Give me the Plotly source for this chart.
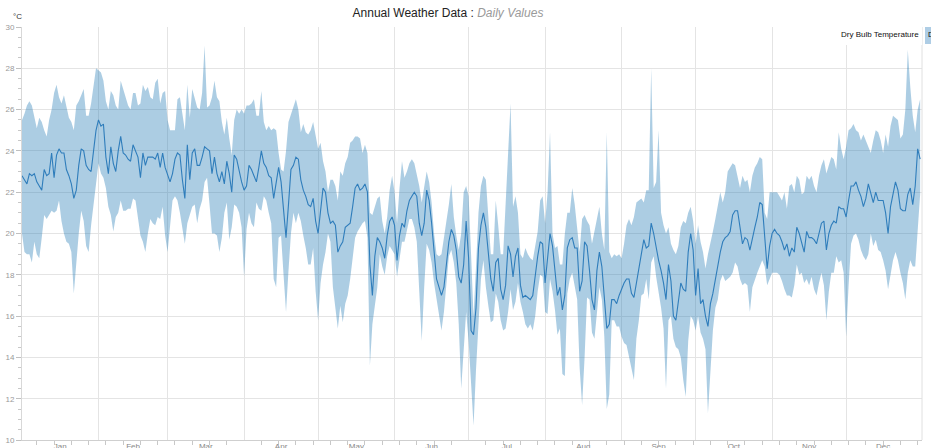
import pandas as pd
import plotly.graph_objects as go

# ---------------- data (daily dry bulb temperature, °C) ----------------
dates = pd.date_range("2019-01-01", periods=365, freq="D")

t_mean = [
    22.8,22.6,22.4,22.9,22.8,22.9,22.5,22.3,22.1,23.1, 22.8,22.9,23.9,22.7,23.8,24.1,23.9,23.9,23.1,22.8,
    22.4,21.7,22.1,23.3,24.1,24.0,23.3,23.1,23.0,24.0, 25.0,25.5,25.2,25.3,23.7,22.9,24.2,23.4,23.0,24.0,
    24.7,23.9,23.8,23.6,23.5,24.3,24.0,23.7,22.7,23.9, 23.3,23.7,23.7,23.7,23.6,23.9,23.2,23.9,23.2,22.8,
    22.5,22.9,23.6,
    23.9,23.8,22.6,21.7,24.3,22.6,23.9,24.1,23.3,23.3, 23.7,24.2,24.1,24.0,22.9,23.7,22.9,22.5,23.0,22.4,
    23.5,22.9,22.0,23.8,23.6,23.0,22.5,22.1,22.3,23.3, 23.1,22.8,22.5,23.2,24.0,23.4,23.2,22.8,22.7,21.7,
    22.4,23.2,22.5,21.2,19.8,21.4,23.1,23.3,23.7,23.6, 22.6,22.1,21.8,21.4,21.3,21.7,20.6,20.0,21.0,22.2,
    22.0,
    21.0,20.5,20.6,20.4,19.1,19.4,19.6,20.3,20.4,20.5, 21.3,22.2,22.4,22.1,22.2,22.4,22.0,18.5,17.0,18.9,
    19.8,19.6,19.3,18.8,19.9,20.6,20.8,20.4,18.7,19.9, 20.5,20.3,21.1,21.6,21.8,22.0,21.8,20.5,19.9,20.5,
    22.1,21.6,20.5,19.0,17.8,17.4,17.0,17.4,18.5,19.6, 20.2,19.9,19.2,17.9,17.6,18.5,20.6,18.8,15.3,15.1,
    16.4,
    19.3,20.4,21.0,20.3,19.2,17.8,17.2,18.6,18.8,17.3, 16.8,17.5,19.4,19.0,17.9,18.9,19.3,17.5,16.9,17.0,
    16.9,16.8,17.0,18.0,18.9,19.6,19.5,17.6,18.9,20.0, 19.4,18.3,17.0,17.4,16.3,17.0,19.3,19.7,19.8,19.3,
    19.3,17.2,17.7,19.6,19.4,18.2,16.8,16.3,18.2,19.1, 18.4,16.9,15.4,15.6,16.8,16.8,16.6,17.0,17.3,17.6,
    17.8,
    17.8,17.1,16.9,17.6,18.4,19.0,19.7,19.3,19.4,20.5, 20.0,19.3,18.7,18.2,17.6,16.8,18.5,17.7,16.0,15.8,
    16.6,17.6,17.3,17.2,19.1,20.0,19.2,17.0,18.3,16.6, 16.8,16.0,15.5,16.6,17.1,17.8,18.4,19.1,19.6,19.8,
    19.9,20.1,20.9,21.1,21.1,20.2,19.5,19.8,19.7,19.2, 19.8,20.3,20.8,21.5,21.4,19.6,18.3,19.4,20.0,20.2,
    20.0,
    19.9,19.6,19.2,19.5,18.9,19.3,19.1,20.3,20.0,19.6, 19.1,20.1,19.8,19.8,19.7,19.5,20.0,20.5,20.6,19.2,
    20.0,20.4,20.6,20.5,21.3,21.2,21.2,20.8,21.6,22.3, 22.3,22.5,22.1,21.8,21.3,21.7,22.4,21.9,21.5,22.0,
    21.6,21.6,21.6,21.0,20.0,21.3,22.0,22.5,22.1,21.2, 21.1,21.1,21.9,22.2,21.4,22.3,24.1,23.6,
]

t_max = [
    25.5,25.8,26.2,26.4,26.2,25.6,25.1,25.6,25.4,25.0, 24.7,25.5,26.0,26.8,27.2,26.6,26.3,26.7,26.2,25.6,
    25.4,25.0,26.2,26.4,26.7,27.0,25.7,25.7,26.3,27.3, 28.0,27.9,27.8,27.4,26.4,26.0,26.9,26.7,26.2,26.0,
    27.4,27.0,26.6,26.2,26.0,26.8,26.8,26.2,26.3,27.2, 26.9,27.1,26.6,26.5,27.3,27.5,26.3,26.8,26.9,25.5,
    25.0,25.0,25.0,
    26.5,26.6,25.8,25.0,27.2,25.6,27.0,26.6,26.1,26.0, 26.8,29.1,26.1,26.2,26.6,27.4,26.6,26.4,25.4,24.8,
    25.6,24.6,23.8,25.5,26.0,25.8,26.0,25.8,26.2,26.2, 26.3,26.5,25.7,25.7,26.9,25.4,25.0,25.2,25.0,25.1,
    25.0,23.9,23.1,23.0,24.0,25.4,25.8,26.1,26.5,26.0, 24.9,25.3,24.9,24.8,25.0,25.4,24.7,24.1,24.4,23.5,
    23.0,
    22.0,22.6,22.6,22.3,21.6,23.0,22.8,23.4,23.7,24.4, 24.5,24.7,24.7,24.6,23.9,24.3,23.9,21.0,20.9,21.3,
    21.7,21.8,20.6,20.0,20.8,22.1,22.8,22.0,20.5,22.2, 23.5,22.7,23.0,23.4,23.6,23.4,22.9,22.3,21.5,22.2,
    23.0,22.5,21.5,20.0,19.0,18.9,19.0,19.8,20.5,21.4, 22.4,20.8,19.9,19.2,20.0,22.0,22.3,21.8,19.0,16.0,
    18.4,
    21.0,22.3,22.8,22.6,21.0,19.0,19.0,21.6,20.4,19.0, 19.0,21.3,23.5,26.3,21.3,21.8,21.0,19.0,18.8,19.3,
    19.0,18.8,18.7,19.5,20.1,21.6,21.8,20.5,22.0,24.9, 20.0,19.3,19.4,18.5,18.5,20.0,21.0,21.0,22.2,21.4,
    20.2,19.1,20.7,20.9,20.6,20.4,19.5,20.2,20.7,21.3, 20.0,19.2,24.9,19.1,18.8,19.0,18.9,19.0,18.8,19.5,
    20.4,
    20.7,20.4,20.8,21.5,21.6,21.7,21.5,22.1,22.1,28.0, 22.2,22.5,25.0,21.0,20.4,20.0,20.3,19.5,19.2,19.0,
    19.4,20.3,20.6,20.5,21.0,21.3,20.6,19.5,20.4,19.6, 19.1,18.3,19.0,19.5,20.1,20.7,21.3,22.0,21.5,22.0,
    23.0,23.2,23.4,23.3,22.8,22.2,22.8,22.5,22.6,22.0, 22.8,23.2,23.4,23.7,23.6,21.0,20.7,22.0,22.0,22.0,
    22.0,
    21.8,21.6,22.0,21.2,22.3,22.4,22.0,22.8,22.6,21.9, 22.0,22.8,22.6,22.8,22.3,22.0,22.8,23.3,23.6,22.9,
    23.3,23.7,23.6,23.1,24.9,24.1,23.6,24.2,25.0,25.1, 25.3,25.0,24.9,24.5,24.8,24.5,24.2,23.9,24.5,25.0,
    24.9,24.5,23.9,24.8,24.2,25.2,25.7,25.6,25.5,24.6, 24.8,26.0,28.9,27.1,25.7,24.9,26.0,26.5,
]

t_min = [
    20.0,19.1,19.0,19.0,18.6,19.6,19.0,18.8,19.8,20.9, 20.7,20.9,21.1,21.0,21.1,21.6,20.6,20.0,19.6,19.5,
    19.1,17.1,18.8,20.0,21.1,20.6,19.4,19.1,20.4,21.4, 22.3,23.4,22.9,22.7,22.2,21.3,20.9,20.1,20.8,21.0,
    21.6,21.1,21.1,21.2,21.2,21.7,21.6,20.7,19.9,19.6, 19.1,20.0,20.7,20.5,20.4,20.8,20.7,21.3,19.9,19.1,
    20.4,21.6,21.8,
    21.6,21.0,20.2,19.5,20.5,20.9,21.3,21.4,20.5,21.2, 21.6,22.5,22.7,21.4,20.0,20.0,19.9,19.1,19.8,21.0,
    21.5,19.7,20.3,21.4,21.3,21.0,20.3,17.9,20.2,21.0, 20.5,20.3,21.5,21.2,21.1,21.8,21.6,21.0,20.5,17.8,
    17.4,19.8,19.9,18.0,16.2,18.2,20.0,21.0,20.5,21.0, 20.6,19.9,19.3,18.5,18.5,19.3,17.2,15.8,17.6,18.5,
    19.1,
    20.0,19.6,17.4,16.3,15.4,16.5,15.7,16.6,17.0,17.8, 18.9,19.8,20.1,20.3,20.5,20.6,19.8,13.6,15.6,16.5,
    17.4,19.0,18.4,18.0,18.9,19.4,19.2,19.0,17.9,18.8, 19.6,19.6,20.1,20.7,20.7,20.3,19.6,17.0,14.8,17.4,
    19.5,19.2,18.6,17.6,16.9,16.0,15.3,16.2,17.5,18.9, 19.2,18.6,17.6,15.6,12.5,14.5,16.2,14.8,12.8,10.7,
    13.4,
    16.0,17.8,18.7,17.4,16.5,15.7,15.8,17.1,16.7,15.8, 15.3,15.4,16.2,17.3,16.3,16.7,17.6,16.7,16.2,15.6,
    15.4,15.6,15.3,16.0,17.2,18.0,17.9,16.2,16.1,17.8, 17.2,16.3,15.1,15.4,13.2,13.1,17.1,17.8,18.1,17.5,
    16.8,13.5,11.7,14.0,16.9,16.8,15.2,14.9,16.0,17.4, 16.8,15.0,11.5,12.2,15.8,15.8,15.5,15.5,15.0,14.7,
    14.6,
    14.0,13.4,12.9,14.9,15.8,17.0,17.1,17.8,16.8,18.6, 18.9,17.9,17.2,16.4,15.4,12.5,15.8,16.0,14.9,14.5,
    14.4,14.0,12.9,12.1,14.8,16.0,15.8,15.3,16.0,15.2, 14.9,14.4,11.3,13.5,15.3,16.4,16.8,17.7,18.0,17.7,
    17.8,17.9,18.1,18.6,18.4,17.8,17.5,17.6,17.5,16.2, 17.4,17.8,18.1,18.4,18.7,18.4,17.5,17.8,18.1,18.1,
    18.1,
    18.0,17.7,17.3,17.0,17.0,16.9,17.5,18.5,18.0,18.1, 17.6,17.8,17.5,17.9,17.3,17.0,17.6,18.1,17.5,15.8,
    17.2,18.1,18.1,18.9,18.6,18.7,18.1,15.0,17.5,19.5, 19.9,20.0,19.7,19.2,18.9,18.7,19.0,20.0,19.4,19.7,
    19.2,19.1,18.7,18.2,17.3,18.1,18.7,19.1,18.7,18.1, 17.6,16.8,18.1,18.7,18.4,18.4,20.2,21.9,
]

y_ticks = [10, 12, 14, 16, 18, 20, 22, 24, 26, 28, 30]
series_name = "Dry Bulb Temperature"

# ---------------- layout geometry (page pixels) ----------------
W, H = 931, 448
PL, PR, PT, PB = 22, 922, 27, 440          # plot area
ML, MR, MT, MB = PL, W - PR, PT, H - PB
PW, PH = W - ML - MR, H - MT - MB


def px_x(px):
    return (px - PL) / PW


def px_y(py):
    return (PB - py) / PH


band_fill = "rgba(31,119,180,0.37)"
line_col = "#2f7dbb"

fig = go.Figure()
fig.add_trace(go.Scatter(x=dates, y=t_min, mode="lines", line=dict(width=0, color=band_fill),
                         hoverinfo="skip", showlegend=False))
fig.add_trace(go.Scatter(x=dates, y=t_max, mode="lines", line=dict(width=0, color=band_fill),
                         fill="tonexty", fillcolor=band_fill, hoverinfo="skip", showlegend=False))
fig.add_trace(go.Scatter(x=dates, y=t_mean, mode="lines", line=dict(width=1.1, color=line_col),
                         name=series_name, showlegend=False))

grid = "#e4e4e4"
fig.update_xaxes(
    type="date",
    range=["2019-01-01", "2019-12-31 18:00"],
    tick0="2019-01-01", dtick="M1", tickformat="%b", ticklabelmode="period",
    ticks="", ticklabelstandoff=-2, showgrid=True, gridcolor=grid, gridwidth=1,
    tickfont=dict(size=8, color="#888", family="Liberation Sans, Arial, sans-serif"),
    showline=True, linecolor="#cfcfcf", linewidth=1,
    minor=dict(dtick=7 * 86400000, tick0="2019-01-07", ticks="outside", ticklen=4,
               tickcolor="#c8c8c8", showgrid=False),
    zeroline=False, automargin=False, fixedrange=True,
)
fig.update_yaxes(
    range=[10, 30], tickvals=y_ticks, ticks="outside", ticklen=5, tickcolor="#c0c0c0",
    showgrid=True, gridcolor=grid, gridwidth=1,
    tickfont=dict(size=8, color="#999", family="Liberation Sans, Arial, sans-serif"),
    showline=True, linecolor="#d8d8d8", linewidth=1,
    minor=dict(dtick=0.5, tick0=10, ticks="outside", ticklen=3, tickcolor="#c8c8c8", showgrid=False),
    zeroline=False, automargin=False, fixedrange=True,
)

fig.update_layout(
    width=W, height=H,
    margin=dict(l=ML, r=MR, t=MT, b=MB, pad=0),
    paper_bgcolor="white", plot_bgcolor="white",
    font=dict(family="Liberation Sans, Arial, sans-serif", color="#333"),
    title=dict(
        text="Annual Weather Data : <i><span style='color:#9a9a9a'>Daily Values</span></i>",
        x=448 / W, xref="container", xanchor="center",
        y=1 - 13 / H, yref="container", yanchor="middle",
        font=dict(size=12, color="#222", family="Liberation Sans, Arial, sans-serif"),
    ),
    showlegend=False,
    shapes=[
        dict(type="line", xref="paper", yref="paper", x0=1, x1=1, y0=0, y1=1,
             line=dict(color="#e0e0e0", width=1)),
        dict(type="rect", xref="paper", yref="paper", x0=px_x(842), x1=px_x(922),
             y0=px_y(45), y1=px_y(27), fillcolor="white", line=dict(width=0), layer="above"),
        dict(type="rect", xref="paper", yref="paper", x0=px_x(925), x1=px_x(945),
             y0=px_y(44), y1=px_y(27), fillcolor="#aecde5", line=dict(width=0), layer="above"),
    ],
    annotations=[
        dict(text="°C", xref="paper", yref="paper", x=px_x(17), y=px_y(17),
             showarrow=False, xanchor="center", yanchor="middle",
             font=dict(size=8, color="#333")),
        dict(text=series_name, xref="paper", yref="paper", x=px_x(921), y=px_y(35),
             showarrow=False, xanchor="right", yanchor="middle",
             font=dict(size=8, color="#111")),
        dict(text="D", xref="paper", yref="paper", x=px_x(926), y=px_y(35),
             showarrow=False, xanchor="left", yanchor="middle",
             font=dict(size=8, color="#111")),
    ],
)

# remove the browser's default 8px page margin so the figure fills the window exactly
fig.write_html(
    "out.html",
    config={"displayModeBar": False},
    post_script="document.body.style.margin='0';document.body.style.overflow='hidden';",
)
